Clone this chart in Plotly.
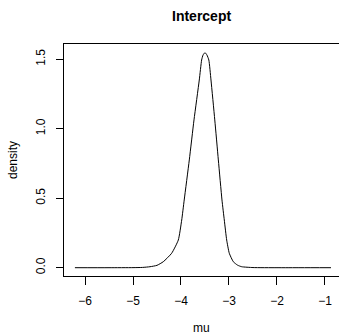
import plotly.graph_objects as go

mu = [-6.21, -5.5, -5.0, -4.8, -4.646, -4.5, -4.369, -4.194, -4.056, -3.985, -3.933,
      -3.827, -3.729, -3.619, -3.57, -3.54, -3.5, -3.46, -3.42, -3.375, -3.296,
      -3.222, -3.146, -3.098, -3.048, -2.994, -2.91, -2.82, -2.735, -2.5, -2.0,
      -1.5, -0.875]
density = [0.0, 0.0, 0.0005, 0.002, 0.007, 0.017, 0.043, 0.104, 0.199, 0.343, 0.487,
           0.775, 1.063, 1.35, 1.494, 1.53, 1.547, 1.53, 1.494, 1.35, 1.063,
           0.775, 0.487, 0.343, 0.199, 0.104, 0.043, 0.018, 0.007, 0.001, 0.0,
           0.0, 0.0]

x_ticks = [-6, -5, -4, -3, -2, -1]
y_ticks = [0.0, 0.5, 1.0, 1.5]
y_tick_text = ["0.0", "0.5", "1.0", "1.5"]

FONT = "Liberation Sans, Arial, Helvetica, sans-serif"

fig = go.Figure()
fig.add_trace(go.Scatter(x=mu, y=density, mode="lines",
                         line=dict(color="black", width=1, shape="spline", smoothing=0.5),
                         showlegend=False, hoverinfo="skip"))

fig.update_layout(
    width=339, height=334,
    margin=dict(l=64, r=0, t=44, b=58),
    paper_bgcolor="white", plot_bgcolor="white",
    font=dict(family=FONT, size=12, color="black"),
    xaxis=dict(range=[-6.4375, -0.708], tickvals=x_ticks, ticks="outside",
               ticklen=8, tickwidth=1, tickcolor="black", showline=True,
               linecolor="black", linewidth=1, mirror=True, showgrid=False,
               zeroline=False, ticklabelstandoff=6),
    yaxis=dict(range=[-0.0597, 1.609], tickvals=y_ticks, ticktext=y_tick_text,
               ticks="outside", ticklen=7, tickwidth=1, tickcolor="black",
               showline=True, linecolor="black", linewidth=1, mirror=False,
               showgrid=False, zeroline=False, tickangle=-90, ticklabelstandoff=6),
    annotations=[
        dict(text="<b>Intercept</b>", xref="paper", yref="paper", x=0.5, y=1.1207,
             xanchor="center", yanchor="middle", showarrow=False,
             font=dict(family=FONT, size=14, color="black")),
        dict(text="mu", xref="paper", yref="paper", x=0.5, y=-0.224,
             xanchor="center", yanchor="middle", showarrow=False,
             font=dict(family=FONT, size=12, color="black")),
        dict(text="density", xref="paper", yref="paper", x=-0.1855, y=0.5,
             xanchor="center", yanchor="middle", showarrow=False, textangle=-90,
             font=dict(family=FONT, size=12, color="black")),
    ],
)

fig.write_html("out.html")
